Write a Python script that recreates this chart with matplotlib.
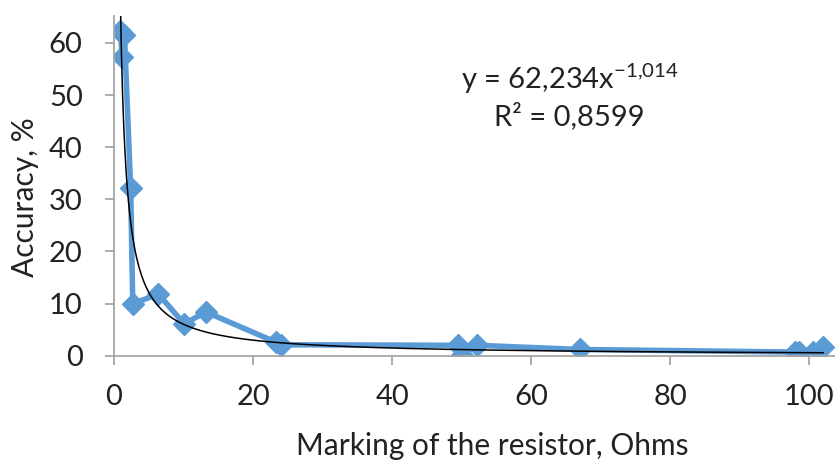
import numpy as np
import matplotlib.pyplot as plt

plt.rcParams['font.family'] = ['Lato', 'DejaVu Sans']

# resistor marking (Ohms) and measured accuracy (%)
marking = [0.9, 1.5, 1.2, 2.4, 2.7, 6.4, 10.1, 13.2, 23.3, 24.0, 49.5, 50.0, 52.2, 67.0, 98.0, 98.5, 100.6, 102.0]
accuracy = [62.3, 61.6, 57.2, 32.1, 10.0, 11.8, 6.1, 8.4, 2.6, 2.1, 2.0, 0.1, 2.0, 1.2, 0.7, 0.7, 0.7, 1.6]

# power trend y = a * x^b
trend_a = 62.234
trend_b = -1.014

fig = plt.figure(figsize=(8.35, 4.65), dpi=100)
ax = fig.add_axes([0.1365, 0.235, 0.8635, 0.73])

order = np.argsort(marking, kind='stable')
xs = np.array(marking)[order]
ys = np.array(accuracy)[order]
ax.plot(xs, ys, color='#5B9BD5', lw=4, marker='D', ms=11.5, solid_joinstyle='round', zorder=2)

xt = np.linspace(0.9, 102, 600)
ax.plot(xt, trend_a * xt ** trend_b, color='black', lw=1.1, zorder=3)

ax.set_xlim(0, 103.7)
ax.set_ylim(0, 65.1)
ax.set_xticks(range(0, 101, 20))
ax.set_yticks(range(0, 61, 10))
for s in ['top', 'right']:
    ax.spines[s].set_visible(False)
for s in ['left', 'bottom']:
    ax.spines[s].set_color('#A6A6A6')
    ax.spines[s].set_linewidth(1.3)
ax.tick_params(colors='#A6A6A6', labelcolor='#222222', labelsize=21, length=6.5, width=1.3, direction='out')
ax.tick_params(axis='y', pad=16)
ax.tick_params(axis='x', pad=14)

ax.set_xlabel('Marking of the resistor, Ohms', fontsize=21.5, color='#222222', va='center')
ax.set_ylabel('Accuracy, %', fontsize=21.5, color='#222222', va='center')
ax.xaxis.set_label_coords(0.524, -0.266)
ax.yaxis.set_label_coords(-0.123, 0.467)

ax.text(0.632, 0.817, 'y = 62,234x$^{\\mathregular{-1{,}014}}$', transform=ax.transAxes,
        fontsize=21, ha='center', va='center', color='#222222')
ax.text(0.632, 0.705, 'R² = 0,8599', transform=ax.transAxes,
        fontsize=21, ha='center', va='center', color='#222222')

fig.savefig('out.png', dpi=100)
